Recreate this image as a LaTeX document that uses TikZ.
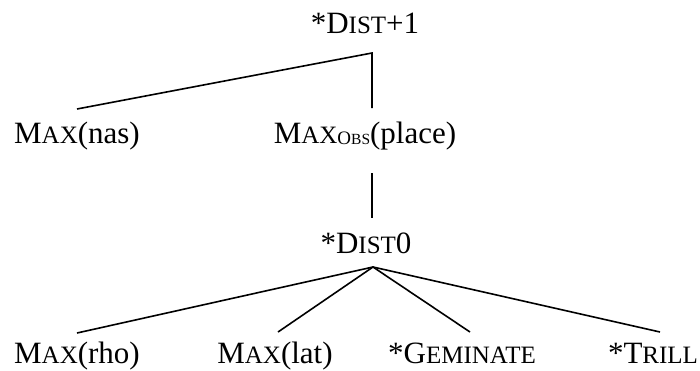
\documentclass[tikz,border=0pt]{standalone}
\usepackage{fontspec}
\setmainfont{Liberation Serif}
\usepackage{tikz}

% fake small caps: first letter full size, rest smaller
\newcommand{\fakesc}[2]{#1{\fontsize{25}{26}\selectfont #2}}
\newcommand{\obssub}{\raisebox{-1.5pt}{\fontsize{19}{19}\selectfont O\fontsize{15.5}{16}\selectfont BS}}

\begin{document}
\begin{tikzpicture}[x=1pt,y=-1pt]
  \useasboundingbox (0,0) rectangle (700,370);
  \tikzset{lbl/.style={anchor=base,inner sep=0pt,font=\fontsize{31}{36}\selectfont},
    branch/.style={line width=1.6pt}}

      \coordinate (D1) at (365, 33);
  \coordinate (D1foot) at (372, 53);
  \coordinate (NASpos) at (77, 143);
  \coordinate (NAShead) at (77, 109);
  \coordinate (OBSpos) at (365, 143);
  \coordinate (OBShead) at (372, 108);
  \coordinate (OBSfoot) at (372, 173);

  \node[lbl] (dist1) at (D1) {*\fakesc{D}{IST}+1};
  \node[lbl] (nas) at (NASpos) {\fakesc{M}{AX}(nas)};
  \node[lbl] (obs) at (OBSpos) {\fakesc{M}{AX}\obssub(place)};

  \draw[branch] (NAShead) -- (D1foot) -- (OBShead);
  \draw[branch] (OBSfoot) -- (372, 218) coordinate (D0head);

 \coordinate (D0) at (366, 253);
  \coordinate (D0foot) at (373, 267);
  \coordinate (RHOpos) at (77, 363);
  \coordinate (LATpos) at (275, 363);
  \coordinate (GEMpos) at (462, 363);
  \coordinate (TRLpos) at (653, 363);
  \coordinate (RHOhead) at (77, 333);
  \coordinate (LAThead) at (278, 332);
  \coordinate (GEMhead) at (470, 332);
  \coordinate (TRLhead) at (660, 332);

  \node[lbl] (dist0) at (D0) {*\fakesc{D}{IST}0};
  \node[lbl] (rho) at (RHOpos) {\fakesc{M}{AX}(rho)};
  \node[lbl] (lat) at (LATpos) {\fakesc{M}{AX}(lat)};
  \node[lbl] (gem) at (GEMpos) {*\fakesc{G}{EMINATE}};
  \node[lbl] (trill) at (TRLpos) {*\fakesc{T}{RILL}};

  \draw[branch] (RHOhead) -- (D0foot) -- (TRLhead);
  \draw[branch] (LAThead) -- (D0foot) -- (GEMhead);

\end{tikzpicture}
\end{document}
